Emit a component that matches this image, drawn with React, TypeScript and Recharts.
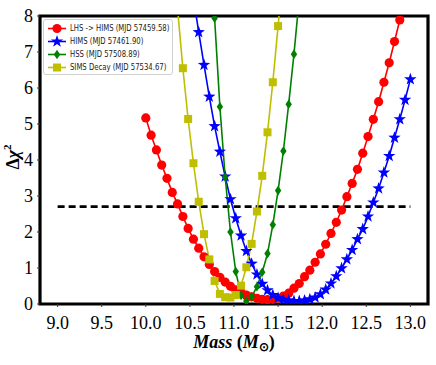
import { LineChart, Line, XAxis, YAxis, ReferenceLine, ReferenceArea } from 'recharts'

// trial masses (M_sun), shared by all four fits
const masses = [
  10.0, 10.06, 10.12, 10.18, 10.24, 10.3, 10.36, 10.42, 10.48, 10.54,
  10.6, 10.66, 10.72, 10.78, 10.84, 10.9, 10.96, 11.02, 11.08, 11.14,
  11.2, 11.26, 11.32, 11.38, 11.44, 11.5, 11.56, 11.62, 11.68, 11.74,
  11.8, 11.86, 11.92, 11.98, 12.04, 12.1, 12.16, 12.22, 12.28, 12.34,
  12.4, 12.46, 12.52, 12.58, 12.64, 12.7, 12.76, 12.82, 12.88, 12.94,
  13.0,
]

const lhsHims = [
  5.17, 4.69, 4.28, 3.86, 3.49, 3.1, 2.78, 2.43, 2.1, 1.8,
  1.55, 1.31, 1.1, 0.9, 0.74, 0.61, 0.49, 0.39, 0.32, 0.25,
  0.2, 0.16, 0.13, 0.12, 0.13, 0.16, 0.22, 0.3, 0.44, 0.57,
  0.76, 0.94, 1.16, 1.39, 1.66, 1.96, 2.27, 2.61, 2.98, 3.35,
  3.74, 4.19, 4.65, 5.13, 5.62, 6.16, 6.7, 7.29, 7.89, 8.5,
  9.12,
]

const hims = [
  null, null, null, null, null, null, null, null, null, 8.5,
  7.55, 6.64, 5.76, 4.94, 4.23, 3.54, 2.91, 2.38, 1.9, 1.47,
  1.12, 0.82, 0.56, 0.38, 0.25, 0.17, 0.12, 0.1, 0.08, 0.08,
  0.1, 0.13, 0.18, 0.27, 0.4, 0.57, 0.77, 0.99, 1.24, 1.5,
  1.8, 2.08, 2.43, 2.82, 3.21, 3.65, 4.11, 4.62, 5.13, 5.67,
  6.24,
]

const hss = [
  null, null, null, null, null, null, null, null, null, null,
  null, null, 10.6, 7.94, 5.48, 3.52, 2.0, 0.9, 0.24, 0.08,
  0.2, 0.48, 0.88, 1.4, 2.2, 3.15, 4.25, 5.55, 6.94, 8.5,
  null, null, null, null, null, null, null, null, null, null,
  null, null, null, null, null, null, null, null, null, null,
  null,
]

const simsDecay = [
  null, null, null, null, null, null, 8.2, 6.55, 5.14, 3.91,
  2.84, 1.94, 1.24, 0.64, 0.28, 0.19, 0.18, 0.25, 0.51, 1.02,
  1.67, 2.57, 3.56, 4.77, 6.16, 7.72, 9.4, null, null, null,
  null, null, null, null, null, null, null, null, null, null,
  null, null, null, null, null, null, null, null, null, null,
  null,
]

const xTicks = [9.0, 9.5, 10.0, 10.5, 11.0, 11.5, 12.0, 12.5, 13.0]
const yTicks = [0, 1, 2, 3, 4, 5, 6, 7, 8]
const threshold = 2.706

const data = masses.map((m, i) => ({
  mass: m,
  lhs: lhsHims[i],
  hims: hims[i],
  hss: hss[i],
  sims: simsDecay[i],
}))

const RED = '#ff0000'
const BLUE = '#0000ff'
const GREEN = '#008000'
const YELLOW = '#bfbf00'

const starPoints = (cx: number, cy: number, ro: number, ri: number) => {
  const pts: string[] = []
  for (let k = 0; k < 10; k++) {
    const r = k % 2 === 0 ? ro : ri
    const a = -Math.PI / 2 + (k * Math.PI) / 5
    pts.push(`${cx + r * Math.cos(a)},${cy + r * Math.sin(a)}`)
  }
  return pts.join(' ')
}

function Marker({ kind, cx, cy }: { kind: string; cx: number; cy: number }) {
  if (kind === 'circle') return <circle cx={cx} cy={cy} r={4.6} fill={RED} />
  if (kind === 'star') return <polygon points={starPoints(cx, cy, 6.5, 2.6)} fill={BLUE} />
  if (kind === 'diamond')
    return <polygon points={`${cx},${cy - 4.8} ${cx + 3.2},${cy} ${cx},${cy + 4.8} ${cx - 3.2},${cy}`} fill={GREEN} />
  return <rect x={cx - 4} y={cy - 4} width={8} height={8} fill={YELLOW} />
}

const dotOf = (kind: string) => (props: any) => {
  const { cx, cy, index, value } = props
  if (value == null || cx == null || cy == null) return <g key={`e${index}`} />
  return (
    <g key={`d${index}`}>
      <Marker kind={kind} cx={cx} cy={cy} />
    </g>
  )
}

const legendItems = [
  { label: 'LHS -> HIMS (MJD 57459.58)', color: RED, kind: 'circle' },
  { label: 'HIMS (MJD 57461.90)', color: BLUE, kind: 'star' },
  { label: 'HSS (MJD 57508.89)', color: GREEN, kind: 'diamond' },
  { label: 'SIMS Decay (MJD 57534.67)', color: YELLOW, kind: 'square' },
]

function XLabel(props: any) {
  const { x, y, width } = props.viewBox
  return (
    <text
      x={x + width / 2}
      y={y + 44}
      textAnchor="middle"
      fontFamily="'Liberation Serif', serif"
      fontSize={18}
      fontWeight="bold"
      fill="#000"
    >
      <tspan fontStyle="italic">Mass</tspan>
      <tspan> (</tspan>
      <tspan fontStyle="italic">M</tspan>
      <tspan fontSize={12} dy={3}>⊙</tspan>
      <tspan dy={-3}>)</tspan>
    </text>
  )
}

function YLabel(props: any) {
  const { y, height } = props.viewBox
  const cx = 13
  const cy = y + height / 2 - 3
  return (
    <text
      x={cx}
      y={cy}
      transform={`rotate(-90 ${cx} ${cy})`}
      textAnchor="middle"
      dominantBaseline="central"
      fontFamily="'Liberation Serif', serif"
      fontSize={18}
      fontWeight="bold"
      fill="#000"
    >
      <tspan>Δ</tspan>
      <tspan fontStyle="italic">χ</tspan>
      <tspan fontSize={11} dy={-6}>2</tspan>
    </text>
  )
}

const tickStyle = { fontFamily: "'Liberation Serif', serif", fontSize: 18, fill: '#000' }

export default function App() {
  return (
    <div style={{ position: 'absolute', left: 0, top: 0, width: 436, height: 365, background: '#fff' }}>
      <LineChart width={436} height={365} data={data} margin={{ top: 16, right: 8, bottom: 0, left: 0 }}>
        <XAxis
          dataKey="mass"
          type="number"
          domain={[8.8, 13.2]}
          ticks={xTicks}
          tickFormatter={(v: number) => v.toFixed(1)}
          tick={tickStyle}
          tickSize={3}
          tickMargin={9}
          tickLine={{ stroke: '#333' }}
          axisLine={false}
          height={61}
          allowDataOverflow
          label={<XLabel />}
        />
        <YAxis
          type="number"
          domain={[0, 8]}
          ticks={yTicks}
          tick={tickStyle}
          tickSize={3}
          tickMargin={4}
          tickLine={{ stroke: '#333' }}
          axisLine={false}
          width={40}
          allowDataOverflow
          label={<YLabel />}
        />
        <ReferenceLine
          segment={[
            { x: 9.0, y: threshold },
            { x: 13.0, y: threshold },
          ]}
          stroke="#000"
          strokeWidth={2.6}
          strokeDasharray="7 4"
        />
        <Line dataKey="lhs" stroke={RED} strokeWidth={1.6} dot={dotOf('circle')} isAnimationActive={false} />
        <Line dataKey="hims" stroke={BLUE} strokeWidth={1.6} dot={dotOf('star')} isAnimationActive={false} />
        <Line dataKey="hss" stroke={GREEN} strokeWidth={1.6} dot={dotOf('diamond')} isAnimationActive={false} />
        <Line dataKey="sims" stroke={YELLOW} strokeWidth={1.6} dot={dotOf('square')} isAnimationActive={false} />
        <ReferenceArea x1={8.8} x2={13.2} y1={0} y2={8} fill="none" fillOpacity={0} stroke="#000" strokeWidth={3.2} />
      </LineChart>
      <div
        style={{
          position: 'absolute',
          left: 43,
          top: 19,
          width: 130,
          height: 56,
          boxSizing: 'border-box',
          border: '1px solid #d0d0d0',
          borderRadius: 3,
          background: 'rgba(255,255,255,0.85)',
          padding: '2px 0 0 3px',
          fontFamily: "'DejaVu Sans', sans-serif",
          fontSize: 8,
          color: '#222',
        }}
      >
        {legendItems.map((it) => (
          <div key={it.label} style={{ display: 'flex', alignItems: 'center', height: 13 }}>
            <svg width={22} height={13} style={{ flex: 'none' }}>
              <line x1={1} y1={6.5} x2={19} y2={6.5} stroke={it.color} strokeWidth={1.6} />
              <Marker kind={it.kind} cx={10} cy={6.5} />
            </svg>
            <span
              style={{
                whiteSpace: 'nowrap',
                marginLeft: 1,
                display: 'inline-block',
                transform: 'scaleX(0.86)',
                transformOrigin: 'left center',
              }}
            >
              {it.label}
            </span>
          </div>
        ))}
      </div>
    </div>
  )
}
